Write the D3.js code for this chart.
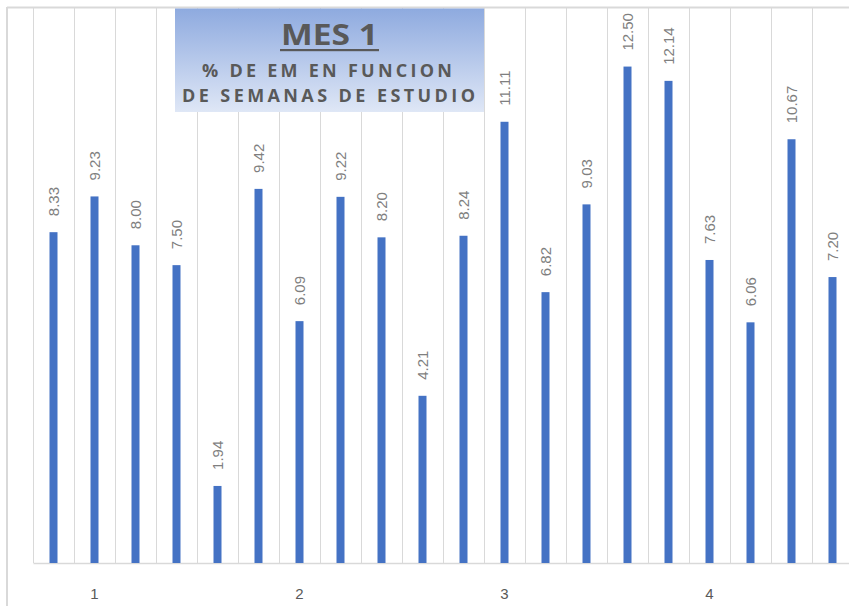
<!DOCTYPE html>
<html>
<head>
<meta charset="utf-8">
<script src="https://cdn.jsdelivr.net/npm/d3@7"></script>
<style>
html,body{margin:0;padding:0;background:#fff;}
svg{display:block;}
</style>
</head>
<body>
<script>
const values = [8.33, 9.23, 8.00, 7.50, 1.94, 9.42, 6.09, 9.22, 8.20, 4.21, 8.24, 11.11, 6.82, 9.03, 12.50, 12.14, 7.63, 6.06, 10.67, 7.20];
const tickLabels = ["", "1", "", "", "", "", "2", "", "", "", "", "3", "", "", "", "", "4", "", "", ""];
const yDomain = [0, 14];
const titleMain = "MES 1";
const subtitle1 = "% DE EM EN FUNCION";
const subtitle2 = "DE SEMANAS DE ESTUDIO";

const W = 849, H = 606;
const svg = d3.select("body").append("svg").attr("width", W).attr("height", H);

const x = d3.scaleBand().domain(d3.range(values.length)).range([33, 853]).padding(0);
const y = d3.scaleLinear().domain(yDomain).range([563, 7]);

// chart border (top & left)
svg.append("line").attr("x1", 7).attr("x2", W).attr("y1", 7.5).attr("y2", 7.5)
  .attr("stroke", "#d9d9d9").attr("stroke-width", 2);
svg.append("line").attr("x1", 7).attr("x2", 7).attr("y1", 7).attr("y2", H)
  .attr("stroke", "#d9d9d9").attr("stroke-width", 2);

// vertical gridlines between categories
const gridX = d3.range(values.length + 1).map(i => i < values.length ? x(i) : x(values.length - 1) + x.bandwidth());
svg.append("g").selectAll("line").data(gridX).join("line")
  .attr("x1", d => Math.round(d) + 0.5).attr("x2", d => Math.round(d) + 0.5)
  .attr("y1", y(yDomain[1])).attr("y2", y(0))
  .attr("stroke", "#d9d9d9").attr("stroke-width", 1);

// x axis
const xAxis = d3.axisBottom(x)
  .tickValues(d3.range(values.length).filter(i => tickLabels[i] !== ""))
  .tickFormat(i => tickLabels[i])
  .tickSize(0).tickPadding(0);
const gx = svg.append("g").attr("transform", `translate(0,${y(0)})`).call(xAxis);
gx.select(".domain").attr("stroke", "#d9d9d9").attr("stroke-width", 1.5);
gx.selectAll("text").attr("font-family", "Liberation Sans, Arial, sans-serif")
  .attr("font-size", 15).attr("fill", "#595959").attr("dy", 0).attr("y", 36);

// bars
const bw = 8;
svg.append("g").selectAll("rect").data(values).join("rect")
  .attr("x", (d, i) => x(i) + x.bandwidth() / 2 - bw / 2)
  .attr("y", d => y(d))
  .attr("width", bw)
  .attr("height", d => y(0) - y(d))
  .attr("fill", "#4472c4");

// data labels
svg.append("g").selectAll("text").data(values).join("text")
  .attr("transform", (d, i) => `translate(${x(i) + x.bandwidth() / 2 + 5.5},${y(d) - 16}) rotate(-90)`)
  .attr("text-anchor", "start")
  .attr("font-family", "Liberation Sans, Arial, sans-serif")
  .attr("font-size", 15)
  .attr("fill", "#7f7f7f")
  .text(d => d.toFixed(2));

// title box
const defs = svg.append("defs");
const grad = defs.append("linearGradient").attr("id", "tg").attr("x1", 0).attr("x2", 0).attr("y1", 0).attr("y2", 1);
grad.append("stop").attr("offset", "0%").attr("stop-color", "#8eaadf");
grad.append("stop").attr("offset", "100%").attr("stop-color", "#dfe7f6");
svg.append("rect").attr("x", 175).attr("y", 8.5).attr("width", 309).attr("height", 103.5).attr("fill", "url(#tg)");

const tf = "Open Sans, Liberation Sans, Arial, sans-serif";
svg.append("text").attr("x", 329.5).attr("y", 45).attr("text-anchor", "middle")
  .attr("font-family", tf).attr("font-weight", "bold").attr("font-size", 28)
  .attr("fill", "#595959").attr("textLength", 97).attr("lengthAdjust", "spacingAndGlyphs").text(titleMain);
svg.append("rect").attr("x", 280).attr("y", 49).attr("width", 99).attr("height", 2.2).attr("fill", "#595959");
svg.append("text").attr("x", 327).attr("y", 77).attr("text-anchor", "middle")
  .attr("font-family", tf).attr("font-weight", "bold").attr("font-size", 18)
  .attr("fill", "#595959").attr("textLength", 250).attr("lengthAdjust", "spacing").text(subtitle1);
svg.append("text").attr("x", 328.5).attr("y", 102).attr("text-anchor", "middle")
  .attr("font-family", tf).attr("font-weight", "bold").attr("font-size", 18)
  .attr("fill", "#595959").attr("textLength", 293).attr("lengthAdjust", "spacing").text(subtitle2);
</script>
</body>
</html>
